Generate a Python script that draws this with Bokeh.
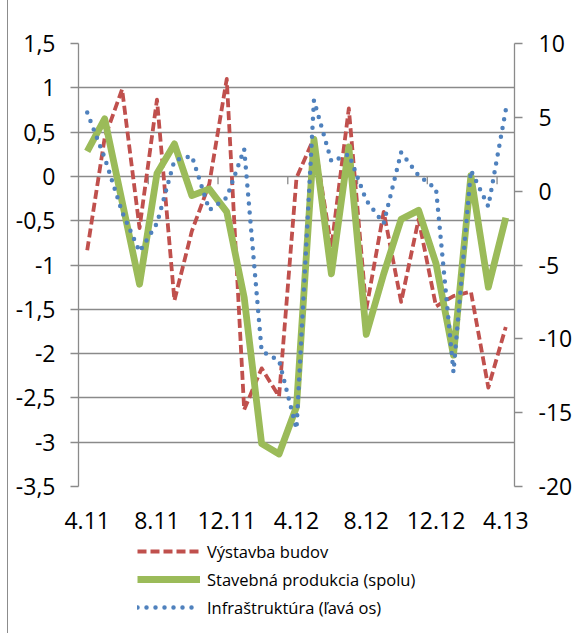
from bokeh.plotting import figure
from bokeh.layouts import column
from bokeh.models import Range1d, LinearAxis, FixedTicker, Legend, LegendItem
from bokeh.embed import file_html
from bokeh.resources import INLINE
import numpy as np

# ---- data ----
months = ["4.11", "5.11", "6.11", "7.11", "8.11", "9.11", "10.11", "11.11", "12.11",
          "1.12", "2.12", "3.12", "4.12", "5.12", "6.12", "7.12", "8.12", "9.12",
          "10.12", "11.12", "12.12", "1.13", "2.13", "3.13", "4.13"]

# right axis
vystavba_budov = [-4.0, 3.6, 6.9, -2.5, 6.2, -7.4, -2.7, 0.5, 7.6, -14.8, -12.0, -13.9, 0.9,
                  3.6, -3.8, 5.6, -8.0, -1.4, -7.5, -1.9, -7.8, -7.1, -6.8, -13.3, -9.2]
stavebna_produkcia = [2.7, 4.9, -0.7, -6.3, 1.2, 3.2, -0.3, 0.15, -1.4, -7.2, -17.1, -17.8, -14.6,
                      3.5, -5.6, 3.0, -9.7, -5.6, -1.9, -1.3, -4.9, -11.1, 1.05, -6.5, -1.8]
# left axis
infrastruktura = [0.72, 0.21, -0.40, -0.85, -0.53, 0.18, 0.23, -0.38, -0.24, 0.31, -1.97, -2.08, -2.85,
                  0.86, 0.17, 0.25, -0.27, -0.53, 0.27, 0.01, -0.14, -2.21, 0.07, -0.34, 0.75]

left_ticks = [1.5, 1.0, 0.5, 0.0, -0.5, -1.0, -1.5, -2.0, -2.5, -3.0, -3.5]
left_tick_labels = ["1,5", "1", "0,5", "0", "-0,5", "-1", "-1,5", "-2", "-2,5", "-3", "-3,5"]
right_ticks = [10, 5, 0, -5, -10, -15, -20]
right_tick_labels = ["10", "5", "0", "-5", "-10", "-15", "-20"]
label_every = 4

series_names = ["Výstavba budov", "Stavebná produkcia (spolu)", "Infraštruktúra (ľavá os)"]

# ---- styles ----
FONT = "Open Sans"
GRID = "#8a8a8a"
RED, GREEN, BLUE = "#C0504D", "#9BBB59", "#4F81BD"
red_style = dict(line_color=RED, line_width=3.8, line_dash="9 4", line_join="round")
green_style = dict(line_color=GREEN, line_width=6.8, line_join="round")
blue_style = dict(line_color=BLUE, line_width=4.5, line_dash="0 9", line_cap="round",
                  line_join="round")
border_css = {"background-color": "white",
              "background-image": "linear-gradient(#8c8c8c, #8c8c8c)",
              "background-size": "1px 100%",
              "background-position": "7px 0",
              "background-repeat": "no-repeat"}

n = len(months)
x = list(range(n))

# ---- main chart ----
p = figure(width=575, height=537, output_backend="svg", toolbar_location=None,
           x_range=Range1d(-0.5, n - 0.5),
           y_range=Range1d(left_ticks[-1], left_ticks[0]),
           min_border_left=78, min_border_right=59, min_border_top=43, min_border_bottom=51)
p.extra_y_ranges = {"right": Range1d(right_ticks[-1], right_ticks[0])}
p.outline_line_color = None
p.background_fill_color = "white"
p.border_fill_color = None
p.styles = border_css

p.xgrid.visible = False
p.ygrid.ticker = FixedTicker(ticks=left_ticks)
p.ygrid.grid_line_color = GRID
p.ygrid.grid_line_width = 1.3

ly = p.yaxis[0]
ly.ticker = FixedTicker(ticks=left_ticks)
ly.major_label_overrides = {t: l for t, l in zip(left_ticks, left_tick_labels)}
ry = LinearAxis(y_range_name="right", ticker=FixedTicker(ticks=right_ticks))
ry.major_label_overrides = {t: l for t, l in zip(right_ticks, right_tick_labels)}
p.add_layout(ry, "right")
for ax, st in ((ly, 15), (ry, 16)):
    ax.axis_line_color = GRID
    ax.axis_line_width = 1.3
    ax.major_tick_line_color = GRID
    ax.major_tick_line_width = 1.3
    ax.major_tick_out = 8
    ax.major_tick_in = 0
    ax.minor_tick_line_color = None
    ax.major_label_standoff = st
    ax.major_label_text_font = FONT
    ax.major_label_text_font_size = "23px"
    ax.major_label_text_color = "black"

bx = p.xaxis[0]
bx.ticker = FixedTicker(ticks=x[::label_every])
bx.major_label_overrides = {i: months[i] for i in x[::label_every]}
bx.axis_line_color = None
bx.major_tick_line_color = None
bx.minor_tick_line_color = None
bx.major_label_standoff = 19
bx.major_label_text_font = FONT
bx.major_label_text_font_size = "23px"
bx.major_label_text_color = "black"

# category tick marks on the zero line
tk = np.arange(label_every - 0.5, n, label_every)
p.segment(x0=tk, y0=0, x1=tk, y1=-0.09, line_color=GRID, line_width=1.3)

p.line(x, vystavba_budov, y_range_name="right", **red_style)
p.line(x, stavebna_produkcia, y_range_name="right", **green_style)
p.line(x, infrastruktura, **blue_style)

# ---- legend strip (series drawn out of view, only legend samples show) ----
lg = figure(width=575, height=96, output_backend="svg", toolbar_location=None,
            x_range=Range1d(-3, -2), y_range=Range1d(0, 1),
            min_border_left=0, min_border_right=0, min_border_top=0, min_border_bottom=0)
lg.axis.visible = False
lg.grid.visible = False
lg.outline_line_color = None
lg.background_fill_color = None
lg.border_fill_color = None
lg.styles = border_css
k_red = lg.line(x, vystavba_budov, **red_style)
k_green = lg.line(x, stavebna_produkcia, **green_style)
k_blue = lg.line(x, infrastruktura, **blue_style)

legend = Legend(items=[LegendItem(label=series_names[0], renderers=[k_red]),
                       LegendItem(label=series_names[1], renderers=[k_green]),
                       LegendItem(label=series_names[2], renderers=[k_blue])],
                location=(59, 12), orientation="vertical",
                glyph_width=63, glyph_height=28, label_height=28, spacing=0,
                padding=0, margin=0, label_standoff=7,
                border_line_color=None, background_fill_alpha=0,
                label_text_font=FONT, label_text_font_size="16.5px",
                label_text_color="black")
lg.add_layout(legend)

layout = column(p, lg, spacing=0)
open("out.html", "w").write(file_html(layout, INLINE))
